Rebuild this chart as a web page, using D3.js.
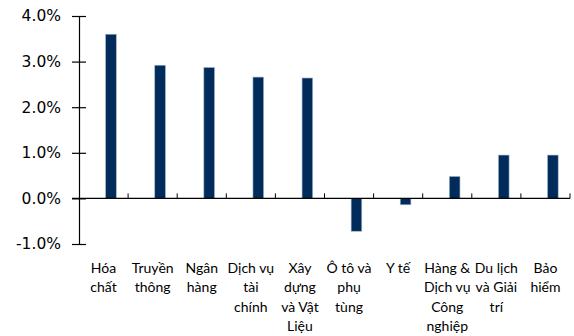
<!DOCTYPE html>
<html>
<head>
<meta charset="utf-8">
<script src="https://cdn.jsdelivr.net/npm/d3@7/dist/d3.min.js"></script>
<style>
  html, body { margin: 0; padding: 0; background: #fff; }
  svg { display: block; }
</style>
</head>
<body>
<svg id="chart" width="574" height="336"></svg>
<script>
// Sector categories (line breaks as drawn under each bar)
const categories = [
  "Hóa\nchất",
  "Truyền\nthông",
  "Ngân\nhàng",
  "Dịch vụ\ntài\nchính",
  "Xây\ndựng\nvà Vật\nLiệu",
  "Ô tô và\nphụ\ntùng",
  "Y tế",
  "Hàng &\nDịch vụ\nCông\nnghiệp",
  "Du lịch\nvà Giải\ntrí",
  "Bảo\nhiểm"
];
// Percentage change per sector
const values = [3.60, 2.92, 2.87, 2.66, 2.64, -0.72, -0.14, 0.48, 0.95, 0.95];
// Y-axis ticks (percent)
const yTicks = [-1, 0, 1, 2, 3, 4];

const svg = d3.select("#chart");
const plotLeft = 79, plotRight = 570, plotTop = 16, plotBottom = 244;

const x = d3.scaleBand().domain(categories).range([plotLeft, plotRight]).padding(0);
const y = d3.scaleLinear().domain([-1, 4]).range([plotBottom, plotTop]);

const bw = x.bandwidth();
// bar sits right of the category centre
const barOffset = bw * 0.543, barWidth = bw * 0.216;

// Bars
svg.append("g").selectAll("rect")
  .data(values)
  .join("rect")
  .attr("x", (d, i) => x(categories[i]) + barOffset)
  .attr("width", barWidth)
  .attr("y", d => y(Math.max(0, d)))
  .attr("height", d => Math.abs(y(d) - y(0)))
  .attr("fill", "#002b5a")
  .attr("stroke", "#9fb0c4")
  .attr("stroke-width", 0.6);

// Y axis
const yAxis = d3.axisLeft(y)
  .tickValues(yTicks)
  .tickFormat(d => d.toFixed(1) + "%")
  .tickSizeInner(7)
  .tickSizeOuter(0)
  .tickPadding(11);
const yg = svg.append("g").attr("transform", `translate(${plotLeft},0)`).call(yAxis);
yg.select(".domain").attr("stroke", "#000").attr("stroke-width", 1.2);
yg.selectAll(".tick line").clone().attr("x2", 7);
yg.selectAll(".tick line").attr("stroke", "#000").attr("stroke-width", 1.2);
yg.selectAll(".tick text")
  .attr("font-family", "DejaVu Sans, Verdana, sans-serif")
  .attr("font-size", 15.5)
  .attr("fill", "#000");

// Zero baseline with inward category ticks
const boundaries = categories.map(c => x(c) + bw);
const zg = svg.append("g");
zg.append("line")
  .attr("x1", plotLeft - 7).attr("x2", plotRight)
  .attr("y1", y(0)).attr("y2", y(0))
  .attr("stroke", "#000").attr("stroke-width", 1.2);
zg.selectAll("line.t")
  .data(boundaries)
  .join("line")
  .attr("class", "t")
  .attr("x1", d => d).attr("x2", d => d)
  .attr("y1", y(0)).attr("y2", y(0) - 5)
  .attr("stroke", "#000").attr("stroke-width", 1);

// Category labels below the plot
const lineH = 19.5;
const lg = svg.append("g")
  .attr("font-family", "Lato, 'Open Sans', sans-serif")
  .attr("font-size", 14)
  .attr("fill", "#000")
  .attr("text-anchor", "middle");
categories.forEach(c => {
  const cx = x(c) + bw / 2;
  const t = lg.append("text")
    .attr("transform", `translate(${cx},272.5)`);
  c.split("\n").forEach((ln, j) => {
    t.append("tspan").attr("x", 0).attr("y", j * lineH).text(ln);
  });
});
</script>
</body>
</html>
